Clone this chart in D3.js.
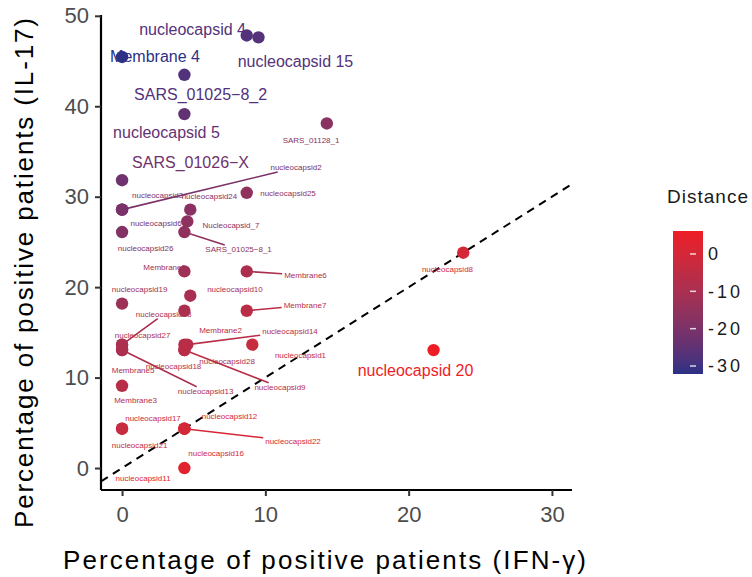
<!DOCTYPE html>
<html>
<head>
<meta charset="utf-8">
<script src="https://cdn.jsdelivr.net/npm/d3@7"></script>
<style>
  body { margin: 0; background: #fff; }
  svg { display: block; font-family: "Liberation Sans", Arial, sans-serif; }
</style>
</head>
<body>
<div id="chart"></div>
<script>
// peptide names, % positive for IFN-y (x) and IL-17 (y)
var names = ["nucleocapsid 4", "nucleocapsid 15", "Membrane 4", "SARS_01025\u22128_2", "nucleocapsid 5",
  "SARS_01026\u2212X", "nucleocapsid 20", "SARS_01128_1", "nucleocapsid2", "nucleocapsid3",
  "nucleocapsid6", "nucleocapsid24", "nucleocapsid25", "Nucleocapsid_7", "SARS_01025\u22128_1",
  "nucleocapsid26", "Membrane1", "Membrane6", "nucleocapsid19", "nucleocapsid10",
  "nucleocapsid23", "Membrane7", "nucleocapsid27", "Membrane2", "nucleocapsid14",
  "nucleocapsid18", "nucleocapsid28", "nucleocapsid1", "Membrane5", "nucleocapsid13",
  "nucleocapsid9", "Membrane3", "nucleocapsid17", "nucleocapsid12", "nucleocapsid21",
  "nucleocapsid22", "nucleocapsid16", "nucleocapsid11", "nucleocapsid8"];
var ifng = [8.70, 9.52, 0, 4.35, 4.35,
  0, 21.74, 14.29, 0, 0,
  0, 4.76, 8.70, 4.55, 4.35,
  0, 4.35, 8.70, 0, 4.76,
  0, 8.70, 0, 4.35, 4.55,
  4.35, 4.35, 9.09, 0, 0,
  4.35, 0, 0, 4.35, 0,
  4.35, 4.35, 4.35, 23.81];
var il17 = [47.83, 47.62, 45.45, 43.48, 39.13,
  31.82, 13.04, 38.10, 28.57, 28.57,
  28.57, 28.57, 30.43, 27.27, 26.09,
  26.09, 21.74, 21.74, 18.18, 19.05,
  13.64, 17.39, 13.64, 13.64, 13.64,
  13.04, 17.39, 13.64, 13.04, 13.04,
  13.04, 9.09, 4.35, 4.35, 4.35,
  4.35, 4.35, 0, 23.81];
// where the repelled labels ended up (data units)
var labelX = [4.92, 12.1, 2.30, 5.48, 3.10,
  4.78, 20.48, 13.19, 12.14, 2.48,
  2.37, 6.10, 11.58, 7.60, 8.13,
  1.64, 2.97, 12.80, 1.22, 7.88,
  2.90, 12.77, 1.43, 6.87, 11.72,
  3.59, 7.33, 12.45, 0.77, 5.83,
  11.02, 0.94, 2.16, 7.50, 1.22,
  11.93, 6.56, 1.47, 22.71];
var labelY = [48.45, 45.0, 45.46, 41.26, 37.06,
  33.74, 10.84, 36.28, 33.26, 30.12,
  27.1, 30.09, 30.42, 26.88, 24.2,
  24.34, 22.23, 21.35, 19.8, 19.8,
  17.04, 18.03, 14.71, 15.27, 15.15,
  11.28, 11.84, 12.5, 10.84, 8.52,
  8.96, 7.52, 5.53, 5.75, 2.54,
  2.99, 1.66, -1.11, 22.01];
var bigLabels = ["nucleocapsid 4", "nucleocapsid 15", "Membrane 4", "SARS_01025\u22128_2",
  "nucleocapsid 5", "SARS_01026\u2212X", "nucleocapsid 20"];
var segmentLabels = ["nucleocapsid2", "SARS_01025\u22128_1", "Membrane6", "nucleocapsid23",
  "Membrane7", "nucleocapsid14", "nucleocapsid13", "nucleocapsid9", "nucleocapsid22"];
var xTicks = [0, 10, 20, 30];
var yTicks = [0, 10, 20, 30, 40, 50];
var legendTicks = [0, -10, -20, -30];

var width = 752, height = 577;
var svg = d3.select("#chart").append("svg")
  .attr("width", width)
  .attr("height", height);

var x = d3.scaleLinear().domain([-1.47, 31.4]).range([101, 572]);
var y = d3.scaleLinear().domain([-2.43, 50.2]).range([490, 14]);

var points = names.map(function (n, i) {
  return { name: n, x: ifng[i], y: il17[i], lx: labelX[i], ly: labelY[i],
    dist: (ifng[i] - il17[i]) / Math.SQRT2 };
});
var dExt = d3.extent(points, function (d) { return d.dist; });
var color = d3.scaleLinear().domain(dExt)
  .range(["#2c3185", "#ee1d25"])
  .interpolate(d3.interpolateLab);

// identity line
var lo = -1.47, hi = 31.4;
svg.append("line")
  .attr("x1", x(lo)).attr("y1", y(lo))
  .attr("x2", x(hi)).attr("y2", y(hi))
  .attr("stroke", "#000").attr("stroke-width", 2)
  .attr("stroke-dasharray", "8,6");

var segG = svg.append("g");
var labG = svg.append("g");
var ptG = svg.append("g");

var labels = labG.selectAll("text").data(points).enter().append("text")
  .attr("x", function (d) { return x(d.lx); })
  .attr("y", function (d) { return y(d.ly); })
  .attr("dy", "0.35em")
  .attr("text-anchor", "middle")
  .attr("font-size", function (d) { return bigLabels.indexOf(d.name) >= 0 ? 16 : 8; })
  .attr("fill", function (d) { return color(d.dist); })
  .text(function (d) { return d.name; });

// segment from the point to the edge of its label box
function clipToBox(px, py, b) {
  var cx = b.x + b.width / 2, cy = b.y + b.height / 2;
  var dx = cx - px, dy = cy - py, tx = -Infinity, ty = -Infinity;
  if (dx !== 0) tx = dx > 0 ? (b.x - px) / dx : (b.x + b.width - px) / dx;
  if (dy !== 0) ty = dy > 0 ? (b.y - py) / dy : (b.y + b.height - py) / dy;
  var t = Math.max(0, Math.min(1, Math.max(tx, ty)));
  return [px + t * dx, py + t * dy];
}
labels.each(function (d) {
  if (segmentLabels.indexOf(d.name) < 0) return;
  var b = this.getBBox();
  var px = x(d.x), py = y(d.y);
  var e = clipToBox(px, py, { x: b.x - 2, y: b.y, width: b.width + 4, height: b.height });
  segG.append("line")
    .attr("x1", px).attr("y1", py)
    .attr("x2", e[0]).attr("y2", e[1])
    .attr("stroke", color(d.dist))
    .attr("stroke-width", 1.6);
});

ptG.selectAll("circle").data(points).enter().append("circle")
  .attr("cx", function (d) { return x(d.x); })
  .attr("cy", function (d) { return y(d.y); })
  .attr("r", 6.2)
  .attr("fill", function (d) { return color(d.dist); });

// axes
var xAxis = svg.append("g")
  .attr("transform", "translate(0,490)")
  .call(d3.axisBottom(x).tickValues(xTicks).tickSize(6).tickPadding(10).tickSizeOuter(0));
var yAxis = svg.append("g")
  .attr("transform", "translate(101,0)")
  .call(d3.axisLeft(y).tickValues(yTicks).tickSize(6).tickPadding(6).tickSizeOuter(0));
[xAxis, yAxis].forEach(function (g) {
  g.select(".domain").attr("stroke", "#000").attr("stroke-width", 2.2);
  g.selectAll(".tick line").attr("stroke", "#333").attr("stroke-width", 2);
  g.selectAll(".tick text").attr("fill", "#4d4d4d").attr("font-size", 22)
    .attr("font-family", "Liberation Sans, Arial, sans-serif");
});
xAxis.select(".domain").attr("d", "M" + 101 + ",0H572");
yAxis.select(".domain").attr("d", "M0,490V15");

// axis titles
svg.append("text")
  .attr("x", 63).attr("y", 569)
  .attr("font-size", 26).attr("fill", "#000")
  .attr("textLength", 523).attr("lengthAdjust", "spacing")
  .text("Percentage of positive patients (IFN-\u03b3)");
svg.append("text")
  .attr("transform", "translate(33,528) rotate(-90)")
  .attr("font-size", 26).attr("fill", "#000")
  .attr("textLength", 510).attr("lengthAdjust", "spacing")
  .text("Percentage of positive patients (IL-17)");

// colour bar legend
var legY = d3.scaleLinear().domain(dExt).range([374, 231]);
var grad = svg.append("defs").append("linearGradient")
  .attr("id", "distGrad").attr("x1", 0).attr("y1", 1).attr("x2", 0).attr("y2", 0);
d3.range(0, 1.0001, 0.1).forEach(function (t) {
  grad.append("stop").attr("offset", t)
    .attr("stop-color", color(dExt[0] + t * (dExt[1] - dExt[0])));
});
svg.append("text")
  .attr("x", 667).attr("y", 203)
  .attr("font-size", 19).attr("fill", "#1a1a1a")
  .attr("textLength", 81).attr("lengthAdjust", "spacing")
  .text("Distance");
svg.append("rect")
  .attr("x", 673).attr("y", legY(dExt[1]))
  .attr("width", 30).attr("height", legY(dExt[0]) - legY(dExt[1]))
  .attr("fill", "url(#distGrad)");
var legG = svg.append("g");
legG.selectAll("line").data(legendTicks).enter().append("line")
  .attr("x1", 690).attr("x2", 696)
  .attr("y1", function (d) { return legY(d); })
  .attr("y2", function (d) { return legY(d); })
  .attr("stroke", "#fff").attr("stroke-opacity", 0.8).attr("stroke-width", 1.5);
legG.selectAll("text").data(legendTicks).enter().append("text")
  .attr("x", 708)
  .attr("y", function (d) { return legY(d); })
  .attr("dy", "0.36em")
  .attr("font-size", 18).attr("fill", "#1a1a1a")
  .attr("letter-spacing", "3px")
  .text(function (d) { return d; });
</script>
</body>
</html>
